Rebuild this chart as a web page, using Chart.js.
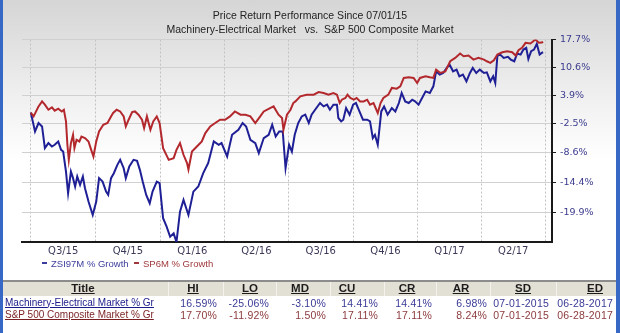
<!DOCTYPE html>
<html>
<head>
<meta charset="utf-8">
<script src="https://cdn.jsdelivr.net/npm/chart.js@4.4.0/dist/chart.umd.min.js"></script>
<style>
  html, body { margin: 0; padding: 0; }
  body {
    width: 620px; height: 333px; position: relative; overflow: hidden;
    background: linear-gradient(to bottom, #d5d5d5 0px, #eeeeee 90px, #ffffff 160px, #ffffff 333px);
    font-family: 'Liberation Sans', Arial, sans-serif;
  }
  #frameL { position: absolute; left: 0; top: 0; width: 3px; height: 333px; background: #3768c6; }
  #frameR { position: absolute; right: 0; top: 0; width: 4px; height: 333px; background: #3768c6; }
  #wrap { position: absolute; left: 0; top: 0; width: 620px; height: 280px; }
  .leg { position: absolute; top: 258px; font: 9.5px 'Liberation Sans', Arial, sans-serif; line-height: 12px; white-space: nowrap; }
  .leg i { display: inline-block; width: 5px; height: 2px; vertical-align: middle; margin-right: 4px; position: relative; top: -1px; }
  #band { position: absolute; left: 3px; right: 4px; top: 280px; height: 14px; background: #e2dfd4; border-top: 2px solid #8c8c8c; }
  .sep { position: absolute; top: 282px; width: 1px; height: 14px; background: #f4f2ec; }
  .cell { position: absolute; white-space: nowrap; line-height: 13px; }
  .head { font: bold 11.5px 'Liberation Sans', Arial, sans-serif; color: #1c1c1c; text-decoration: underline; text-align: center; width: 60px; top: 282px; }
  .name { font: 10px 'Liberation Sans', Arial, sans-serif; text-decoration: underline; left: 5px; }
  .val { font: 10.5px 'Liberation Sans', Arial, sans-serif; text-align: right; width: 80px; letter-spacing: 0.2px; }
</style>
</head>
<body>
<div id="wrap"><canvas id="chart" width="620" height="280"></canvas></div>
<div id="frameL"></div>
<div id="frameR"></div>
<div class="leg" style="left:42px;color:#3c3c9c"><i style="background:#3c3c9c"></i>ZSI97M % Growth</div>
<div class="leg" style="left:134px;color:#a0393c"><i style="background:#a0393c"></i>SP6M % Growth</div>
<div id="band"></div>
<div id="table"></div>
<script>
// days since 07/01/2015
const quarterLabels = ['Q3/15', 'Q4/15', 'Q1/16', 'Q2/16', 'Q3/16', 'Q4/16', 'Q1/17', 'Q2/17'];
const quarterStarts = [0, 92, 184, 275, 366, 458, 550, 640, 731];
const yTickValues = [17.7, 10.6, 3.9, -2.5, -8.6, -14.4, -19.9];
const yMin = -25.06;
const yMax = 17.70;

// ZSI97M % Growth (Machinery-Electrical)
const zsiDays = [0, 6, 11, 16, 20, 25, 30, 34, 39, 43, 46, 50, 53, 57, 60, 63, 66, 70, 74, 77,
  82, 85, 88, 93, 97, 102, 107, 110, 114, 118, 123, 127, 132, 135, 140, 146, 151, 155, 159, 164,
  169, 173, 179, 183, 188, 193, 198, 203, 207, 212, 217, 224, 231, 238, 245, 252, 260, 267, 271, 279,
  286, 295, 301, 306, 312, 319, 324, 331, 338, 343, 348, 353, 358, 362, 367, 371, 375, 380, 385, 390,
  395, 399, 404, 411, 416, 421, 425, 430, 435, 437, 441, 444, 448, 453, 458, 462, 467, 472, 478, 482,
  486, 489, 493, 498, 502, 507, 513, 518, 523, 527, 532, 537, 542, 546, 551, 556, 561, 567, 572, 576,
  581, 586, 591, 595, 600, 605, 609, 614, 619, 624, 628, 633, 638, 644, 648, 653, 657, 660, 663, 667,
  672, 678, 682, 687, 691, 696, 700, 704, 707, 711, 715, 719, 723, 726, 728];
const zsiGrowth = [0, -4.12, -2.29, -3.03, -7.61, -6.56, -7.27, -6.92, -6.22, -7.96, -8.31, -12.31, -16.45, -12.31, -13.59, -15.2, -13.27, -14.88, -13.27, -15.51,
  -17.99, -19.2, -20.4, -17.99, -13.59, -14.25, -16.15, -16.76, -13.59, -12.63, -10.99, -9.99, -11.65, -13.59, -11.32, -9.99, -10.19, -11.98, -14.25, -16.76,
  -18.29, -16.15, -14.25, -14.56, -20.98, -22.45, -24.17, -23.6, -25.06, -19.81, -17.68, -20.4, -16.15, -15.2, -12.63, -10.65, -6.22, -6.92, -6.56, -9.31,
  -4.82, -3.75, -2.29, -3.03, -5.87, -6.56, -8.62, -5.51, -4.82, -2.66, -5.18, -4.11, -4.11, -11.65, -6.92, -8.31, -4.82, -2.29, -0.84, -0.46,
  -2.29, -0.46, 0.65, 2.17, 1.40, 1.79, 0.65, 1.79, 1.79, -1.19, -1.94, -1.57, 1.03, -0.46, 1.79, 2.17, 0.27, -1.57, -1.57, -1.94,
  -5.51, -4.82, -6.92, 0.27, 1.40, -0.46, 1.03, 0.27, 2.17, 4.48, 2.54, 2.17, 2.93, 2.54, 1.79, 3.32, 4.85, 4.48, 6.04, 9.65,
  8.85, 9.25, 10.49, 11.31, 9.65, 10.07, 8.44, 8.85, 7.23, 9.25, 10.49, 9.25, 10.07, 9.25, 9.4, 7.23, 8.44, 6.84, 13.49, 13.82,
  12.99, 13.24, 12.56, 12.14, 14.08, 13.82, 15.1, 15.54, 12.73, 14.67, 15.1, 16.59, 13.82, 14.26, 14.41];

// SP6M % Growth (S&P 500)
const spDays = [0, 4, 11, 16, 20, 25, 30, 34, 39, 44, 47, 50, 52, 54, 57, 60, 62, 65, 69, 72,
  77, 82, 85, 89, 93, 97, 103, 109, 114, 117, 122, 127, 132, 135, 139, 144, 148, 153, 158, 161,
  165, 170, 174, 179, 183, 188, 196, 203, 207, 212, 217, 222, 224, 229, 236, 243, 248, 255, 262, 269,
  276, 283, 290, 298, 305, 312, 319, 326, 331, 340, 345, 352, 357, 359, 364, 369, 373, 376, 383, 392,
  402, 409, 416, 423, 430, 435, 439, 442, 447, 450, 454, 459, 463, 468, 473, 478, 482, 487, 493, 497,
  501, 508, 513, 520, 525, 530, 537, 544, 549, 553, 561, 567, 572, 576, 582, 589, 596, 603, 610, 615,
  622, 629, 636, 644, 648, 653, 658, 663, 670, 677, 684, 689, 693, 698, 703, 710, 717, 722, 726, 728];
const spGrowth = [0, -0.84, 1.40, 2.54, 1.79, 0.65, 1.17, 0.43, 0.88, 0.27, 0.65, -1.94, -6.92, -9.99, -6.56, -4.82, -7.61, -5.87, -6.22, -5.18,
  -5.51, -6.22, -7.61, -9.31, -6.22, -4.11, -2.66, -2.29, -0.84, -0.08, 0.65, 0.27, -0.84, -3.03, -1.57, 0.14, 0.27, -0.46, -1.57, -3.38,
  -0.84, -3.75, -1.94, -0.84, -2.29, -7.61, -9.99, -9.65, -7.96, -6.56, -8.97, -10.65, -11.92, -8.31, -7.27, -6.22, -4.46, -3.03, -2.29, -1.57,
  -1.57, -0.84, 0.27, -0.46, -0.46, -0.84, -2.29, -0.84, 0.27, 1.03, 1.40, -0.46, -1.19, -3.75, -0.46, 0.65, 2.17, 2.54, 3.70, 4.09,
  4.09, 4.71, 4.48, 4.09, 4.48, 4.09, 2.17, 2.93, 3.32, 4.09, 3.32, 2.93, 3.32, 2.54, 2.54, 2.93, 1.79, 2.17, -0.08, 2.17,
  3.32, 4.09, 5.66, 5.49, 6.04, 8.05, 8.20, 8.05, 6.84, 8.05, 8.44, 8.20, 8.05, 10.07, 9.25, 9.65, 12.14, 12.99, 14.10, 13.41,
  13.57, 12.56, 12.99, 12.56, 12.14, 11.74, 12.39, 13.82, 14.41, 14.67, 14.41, 13.57, 14.92, 15.54, 16.85, 16.66, 17.70, 16.85, 16.90, 17.11];

// summary table
const tableHeads = ['Title', 'HI', 'LO', 'MD', 'CU', 'CR', 'AR', 'SD', 'ED'];
const rowNames = ['Machinery-Electrical Market % Gr', 'S&P 500 Composite Market % Gr'];
const rowValues = [
  ['16.59%', '-25.06%', '-3.10%', '14.41%', '14.41%', '6.98%', '07-01-2015', '06-28-2017'],
  ['17.70%', '-11.92%', '1.50%', '17.11%', '17.11%', '8.24%', '07-01-2015', '06-28-2017']
];

const headCenters = [83, 193, 250, 300, 347, 407, 461, 523, 595];
const valueRights = [217, 269, 326, 378, 432, 487, 549, 613];
const separators = [168, 223, 276, 330, 384, 436, 490, 556];
const rowTops = [296.5, 308.5];
const rowNameColors = ['#1b1b8a', '#7a1f22'];
const rowValColors = ['#3a3a96', '#8c3a3c'];

var table = document.getElementById('table');
separators.forEach(function (x) {
  var s = document.createElement('div');
  s.className = 'sep';
  s.style.left = x + 'px';
  table.appendChild(s);
});
tableHeads.forEach(function (h, i) {
  var d = document.createElement('div');
  d.className = 'cell head';
  d.style.left = (headCenters[i] - 30) + 'px';
  d.textContent = h;
  table.appendChild(d);
});
rowNames.forEach(function (n, r) {
  var d = document.createElement('div');
  d.className = 'cell name';
  d.style.top = rowTops[r] + 'px';
  d.style.color = rowNameColors[r];
  d.textContent = n;
  table.appendChild(d);
  rowValues[r].forEach(function (v, i) {
    var c = document.createElement('div');
    c.className = 'cell val';
    c.style.top = rowTops[r] + 'px';
    c.style.left = (valueRights[i] - 80) + 'px';
    c.style.color = rowValColors[r];
    c.textContent = v;
    table.appendChild(c);
  });
});

function toRatio(p) { return 1 + p / 100; }

var zsiPoints = zsiDays.map(function (d, i) { return {x: d, y: toRatio(zsiGrowth[i])}; });
var spPoints = spDays.map(function (d, i) { return {x: d, y: toRatio(spGrowth[i])}; });

var quarterMids = quarterLabels.map(function (q, i) { return (quarterStarts[i] + quarterStarts[i + 1]) / 2; });
var xTicks = quarterStarts.concat(quarterMids).sort(function (a, b) { return a - b; });

const CHART = document.getElementById('chart');
var lineChart = new Chart(CHART, {
  type: 'line',
  data: {
    datasets: [
      {
        label: 'SP6M % Growth',
        data: spPoints,
        xAxisID: 'x',
        yAxisID: 'y',
        borderColor: '#b3282d',
        borderWidth: 2,
        pointRadius: 0,
        fill: false,
        order: 0
      },
      {
        label: 'ZSI97M % Growth',
        data: zsiPoints,
        xAxisID: 'x',
        yAxisID: 'y',
        borderColor: '#1f1f96',
        borderWidth: 2,
        pointRadius: 0,
        fill: false,
        order: 1
      }
    ]
  },
  options: {
    responsive: false,
    animation: false,
    devicePixelRatio: 1,
    layout: {padding: 0},
    plugins: {
      legend: {display: false},
      tooltip: {enabled: false},
      title: {
        display: true,
        text: ['Price Return Performance Since 07/01/15', 'Machinery-Electrical Market   vs.  S&P 500 Composite Market'],
        color: '#222',
        font: {family: "'Liberation Sans', Arial, sans-serif", size: 10.5, weight: 'normal', lineHeight: 1.36},
        padding: {top: 9, bottom: 2}
      }
    },
    scales: {
      x: {
        type: 'linear',
        bounds: 'data',
        min: -12.5,
        max: 740.6,
        afterBuildTicks: function (s) {
          s.ticks = xTicks.map(function (v) { return {value: v}; });
        },
        afterFit: function (s) { s.height = 38; },
        grid: {
          color: function (ctx) {
            return ctx.tick && quarterStarts.indexOf(ctx.tick.value) >= 0 ? '#c2c2c2' : 'rgba(0,0,0,0)';
          },
          drawTicks: false,
          lineWidth: 1
        },
        border: {display: true, color: '#1a1a1a', width: 2, dash: [2, 2]},
        ticks: {
          autoSkip: false,
          maxRotation: 0,
          padding: 3,
          color: '#3a3a58',
          font: {family: "'DejaVu Sans', sans-serif", size: 10},
          callback: function (v) {
            var i = quarterMids.indexOf(v);
            return i >= 0 ? quarterLabels[i] : '';
          }
        }
      },
      y: {
        type: 'logarithmic',
        position: 'right',
        bounds: 'data',
        min: toRatio(yMin),
        max: toRatio(yMax),
        afterBuildTicks: function (s) {
          s.ticks = yTickValues.map(function (v) { return {value: toRatio(v)}; });
        },
        afterFit: function (s) { s.width = 68; },
        grid: {color: '#d0d0d0', tickColor: '#1a1a1a', tickLength: 4, drawTicks: true},
        border: {display: true, color: '#1a1a1a', width: 2},
        ticks: {
          padding: 4,
          color: '#3b3b8f',
          font: {family: "'DejaVu Sans', sans-serif", size: 9.5},
          callback: function (v) {
            return (Math.round((v - 1) * 1000) / 10).toFixed(1) + '%';
          }
        }
      },
      // empty left margin so the plot starts where the original does
      gap: {
        type: 'linear',
        position: 'left',
        grid: {display: false, drawTicks: false},
        border: {display: false},
        ticks: {display: false},
        afterFit: function (s) { s.width = 22; }
      }
    }
  }
});
</script>
</body>
</html>
